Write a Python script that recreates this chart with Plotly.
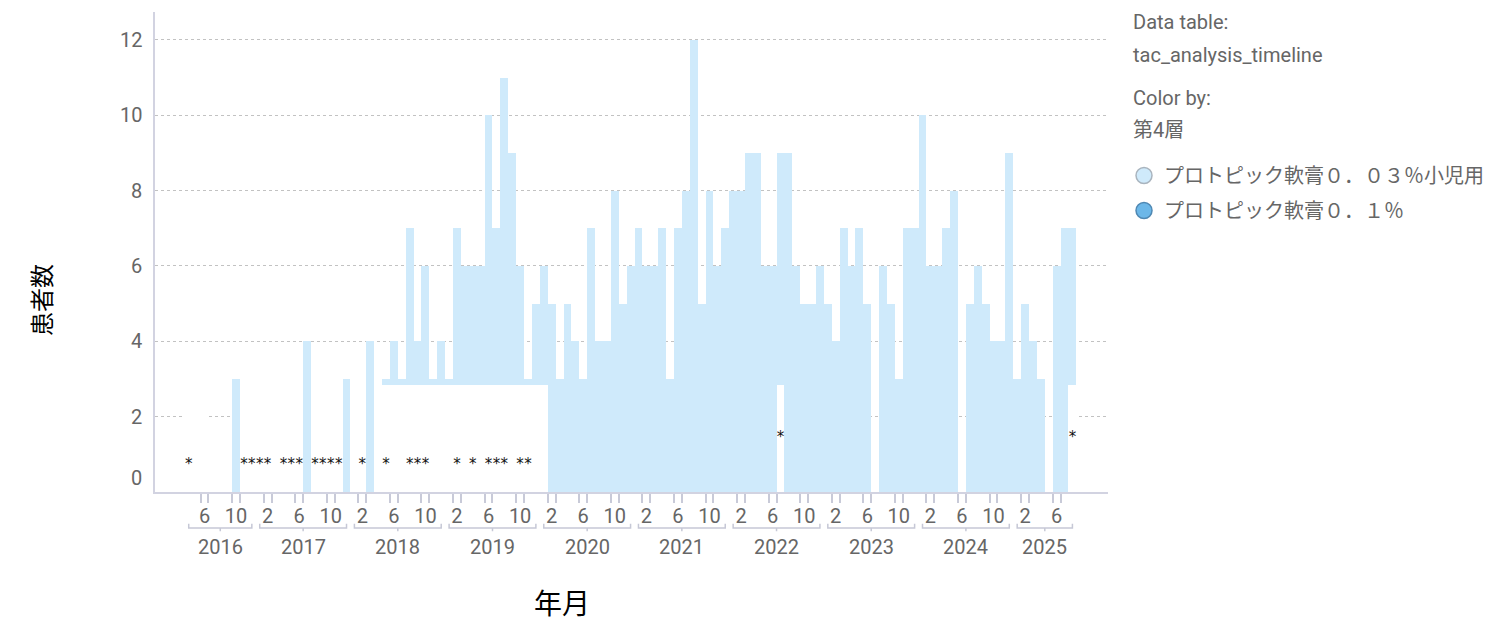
import plotly.graph_objects as go
import pandas as pd

# ---------------- data ----------------
START, END = "2016-04", "2025-08"

# patients per month (プロトピック軟膏０．０３％小児用), total bar height
counts_2016 = [0, 0, 0, 0, 0, 0, 3, 0, 0]                 # Apr-Dec
counts_2017 = [0, 0, 0, 0, 0, 0, 4, 0, 0, 0, 0, 3]
counts_2018 = [0, 0, 4, 0, 3, 4, 3, 7, 4, 6, 3, 4]
counts_2019 = [3, 7, 6, 6, 6, 10, 7, 11, 9, 6, 3, 5]
counts_2020 = [6, 5, 3, 5, 4, 3, 7, 4, 4, 8, 5, 6]
counts_2021 = [7, 6, 6, 7, 3, 7, 8, 12, 5, 8, 6, 7]
counts_2022 = [8, 8, 9, 9, 6, 6, 9, 9, 6, 5, 5, 6]
counts_2023 = [5, 4, 7, 6, 7, 5, 0, 6, 5, 3, 7, 7]
counts_2024 = [10, 6, 6, 7, 8, 0, 5, 6, 5, 4, 4, 9]
counts_2025 = [3, 5, 4, 3, 0, 6, 7, 7]                    # Jan-Aug

# months whose second-layer value is suppressed (drawn as blank placeholder)
masked_months = (
    ["2016-04", "2016-05", "2016-06", "2016-11", "2016-12"]
    + ["2017-01", "2017-02", "2017-03", "2017-04", "2017-05", "2017-06",
       "2017-08", "2017-09", "2017-10", "2017-11"]
    + ["2018-01", "2018-02", "2018-04", "2018-05", "2018-06", "2018-07", "2018-08",
       "2018-09", "2018-10", "2018-11", "2018-12"]
    + ["2019-%02d" % k for k in range(1, 13)]
    + ["2020-01", "2022-07", "2025-08"]
)
MASKED_VALUE = 2.85

# months labelled with "*" (suppressed small counts)
star_months = ["2016-04", "2016-11", "2016-12", "2017-01", "2017-02",
               "2017-04", "2017-05", "2017-06", "2017-08", "2017-09", "2017-10", "2017-11",
               "2018-02", "2018-05", "2018-08", "2018-09", "2018-10",
               "2019-02", "2019-04", "2019-06", "2019-07", "2019-08", "2019-10", "2019-11",
               "2022-07", "2025-08"]

LABEL_MONTHS = (2, 6, 10)
Y_TICKS = [0, 2, 4, 6, 8, 10, 12]
SERIES_A = "プロトピック軟膏０．０３％小児用"
SERIES_B = "プロトピック軟膏０．１％"

# ---------------- styles ----------------
LIGHT = "#cfeafb"
DARK = "#6cb7e8"
GRAY = "#666666"
AXIS = "#d2d3e1"
FONT = "Roboto, 'Noto Sans CJK JP', sans-serif"
FS = 20

# ---------------- build ----------------
periods = pd.period_range(START, END, freq="M")
counts = (counts_2016 + counts_2017 + counts_2018 + counts_2019 + counts_2020
          + counts_2021 + counts_2022 + counts_2023 + counts_2024 + counts_2025)
assert len(counts) == len(periods)


def idx(p):
    return (p.year - 2016) * 12 + p.month - 1


xs = [idx(p) for p in periods]
labels = [str(p) for p in periods]
mask_set = set(masked_months)
base = [MASKED_VALUE if lab in mask_set else 0 for lab in labels]
top = [max(c - b, 0) if c > 0 else 0 for c, b in zip(counts, base)]

fig = go.Figure()
fig.add_trace(go.Bar(x=xs, y=base, marker=dict(color="white", line=dict(width=0)),
                     showlegend=False, hoverinfo="skip"))
fig.add_trace(go.Bar(x=xs, y=top, marker=dict(color=LIGHT, line=dict(width=0)),
                     showlegend=False, name=SERIES_A))

star_p = [pd.Period(s, freq="M") for s in star_months]
star_x = [idx(p) for p in star_p]
star_y = [0.7 if p.year < 2020 else MASKED_VALUE / 2 for p in star_p]
fig.add_trace(go.Scatter(x=star_x, y=star_y, mode="text", text=["*"] * len(star_x),
                         textfont=dict(size=15, color="#111111", family="DejaVu Sans"),
                         textposition="middle center", showlegend=False, hoverinfo="skip"))

# legend entries
for name, fill, edge, grp in [(SERIES_A, LIGHT, "#a9b4be", "a"), (SERIES_B, DARK, "#4f88b3", "b")]:
    fig.add_trace(go.Scatter(x=[None], y=[None], mode="markers", name=name, legendgroup=grp,
                             marker=dict(size=16, color=fill, line=dict(color=edge, width=1.5))))

# ticks
tick_p = [p for p in periods if p.month in LABEL_MONTHS]
tickvals = [idx(p) for p in tick_p]
ticktext = [str(p.month) for p in tick_p]
minor_vals = sorted([v - 0.5 for v in tickvals] + [v + 0.5 for v in tickvals])

# year brackets & labels
shapes, annotations = [], []
years = sorted(set(p.year for p in periods))
for yr in years:
    ms = [idx(p) for p in periods if p.year == yr]
    x0, x1 = min(ms), max(ms)
    xc = (x0 + x1) / 2
    yb, yu, yd = -0.075, -0.066, -0.082
    shapes.append(dict(type="path", xref="x", yref="paper",
                       path=f"M {x0},{yu} L {x0},{yb} L {x1},{yb} L {x1},{yu} M {xc},{yb} L {xc},{yd}",
                       line=dict(color="#c6c8d6", width=1.5)))
    annotations.append(dict(x=xc, y=-0.115, xref="x", yref="paper", text=str(yr),
                            showarrow=False, xanchor="center", yanchor="middle",
                            font=dict(size=FS, color=GRAY, family=FONT)))

# y tick labels: the bottom one sits raised above the baseline
for v in Y_TICKS:
    annotations.append(dict(x=0, y=v, xref="paper", yref="y", text=str(v), showarrow=False,
                            xanchor="right", yanchor="middle", xshift=-11,
                            yshift=14 if v == Y_TICKS[0] else 0,
                            font=dict(size=FS, color=GRAY, family=FONT)))

# axis titles
annotations.append(dict(x=-0.1207, y=0.40, xref="paper", yref="paper", text="患者数",
                        textangle=-90, showarrow=False, xanchor="center", yanchor="middle",
                        font=dict(size=24, color="black", family="'Noto Sans CJK JP'")))
annotations.append(dict(x=0.427, y=-0.2292, xref="paper", yref="paper", text="年月",
                        showarrow=False, xanchor="center", yanchor="middle",
                        font=dict(size=28, color="black", family="'Noto Sans CJK JP'")))

# side panel text
for txt, ypx in [("Data table:", 22), ("tac_analysis_timeline", 55), ("Color by:", 98), ("第4層", 130)]:
    annotations.append(dict(x=1.0241, y=(492 - ypx) / 480, xref="paper", yref="paper", text=txt,
                            xanchor="left", yanchor="middle", showarrow=False,
                            font=dict(size=FS, color=GRAY, family=FONT)))

# the page body adds an 8px offset: margins are set so the plot area lands on
# x 155-1108, y 12-492 of the window
fig.update_layout(
    width=1491, height=621,
    margin=dict(l=147, r=391, t=4, b=137),
    plot_bgcolor="white", paper_bgcolor="white",
    barmode="stack", bargap=0,
    font=dict(family=FONT, color=GRAY, size=FS),
    shapes=shapes, annotations=annotations,
    legend=dict(x=1.0168, xanchor="left", y=0.70, yanchor="top", tracegroupgap=6,
                font=dict(size=FS, color=GRAY, family=FONT), bgcolor="rgba(0,0,0,0)"),
    xaxis=dict(range=[-1.274, 119.51], tickmode="array", tickvals=tickvals, ticktext=ticktext,
               ticks="outside", ticklen=5, tickcolor="rgba(0,0,0,0)",
               showgrid=False, zeroline=False, showline=True, linecolor=AXIS, linewidth=2,
               tickfont=dict(size=FS, color=GRAY),
               minor=dict(tickmode="array", tickvals=minor_vals, ticks="outside", ticklen=9,
                          tickcolor="#c8cad8", tickwidth=1.5, showgrid=False)),
    yaxis=dict(range=[0, 12.74], tickmode="array", tickvals=Y_TICKS, showticklabels=False,
               showgrid=True, gridcolor="#c2c2c2", griddash="dot", gridwidth=1,
               zeroline=False, showline=True, linecolor=AXIS, linewidth=2, ticks=""),
)

fig.write_html("out.html")
